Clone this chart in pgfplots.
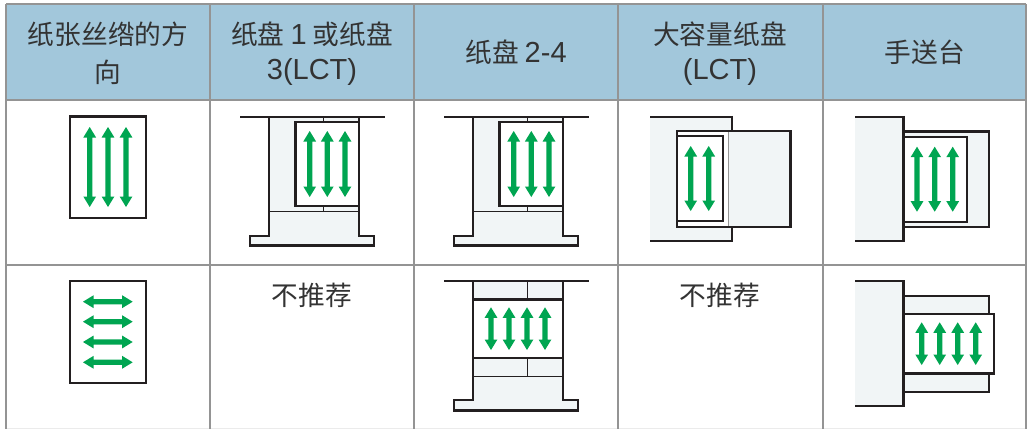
\documentclass[border=0pt]{standalone}
\usepackage{pgfplots}
\pgfplotsset{compat=1.18}
\usepackage{fontspec}
\setmainfont{Liberation Sans}
\newfontfamily\cjk{Noto Sans CJK SC}
\newcommand\lat{\fontsize{29bp}{29bp}\selectfont\rmfamily}
\definecolor{hdr}{HTML}{A2C7DB}
\definecolor{grid}{HTML}{949494}
\definecolor{ink}{HTML}{231F20}
\definecolor{tray}{HTML}{F1F5F6}
\definecolor{arrow}{HTML}{00A551}
\definecolor{txt}{HTML}{333333}
\newcommand\Fill[5]{\addplot[draw=none,fill=#1,forget plot] coordinates {(#2,#3) (#4,#3) (#4,#5) (#2,#5)} --cycle;}
\newcommand\WBox[4]{\addplot[draw=ink,line width=2.4bp,line join=miter,fill=white,forget plot] coordinates {(#1,#2) (#3,#2) (#3,#4) (#1,#4)} --cycle;}
\newcommand\TBox[4]{\addplot[draw=ink,line width=2.4bp,fill=tray,forget plot] coordinates {(#1,#2) (#3,#2) (#3,#4) (#1,#4)} --cycle;}
\newcommand\Ln[4]{\addplot[draw=ink,line width=2.4bp,forget plot] coordinates {(#1,#2) (#3,#4)};}
\newcommand\Thin[4]{\addplot[draw=ink,line width=0.8bp,forget plot] coordinates {(#1,#2) (#3,#4)};}
\newcommand\Gr[4]{\addplot[draw=grid,line width=1.5bp,forget plot] coordinates {(#1,#2) (#3,#4)};}
% vertical double arrow: cx, top, bottom
\newcommand\UD[3]{%
\pgfmathsetmacro\xa{#1-6.4}\pgfmathsetmacro\xb{#1-2.6}\pgfmathsetmacro\xc{#1+2.6}\pgfmathsetmacro\xd{#1+6.4}%
\pgfmathsetmacro\ya{#2+10.5}\pgfmathsetmacro\yb{#3-10.5}%
\addplot[draw=none,fill=arrow,forget plot] coordinates {(#1,#2) (\xd,\ya) (\xc,\ya) (\xc,\yb) (\xd,\yb) (#1,#3) (\xa,\yb) (\xb,\yb) (\xb,\ya) (\xa,\ya)} --cycle;}
% horizontal double arrow: cy, left, right
\newcommand\HA[3]{%
\pgfmathsetmacro\xa{#1-6.4}\pgfmathsetmacro\xb{#1-2.6}\pgfmathsetmacro\xc{#1+2.6}\pgfmathsetmacro\xd{#1+6.4}%
\pgfmathsetmacro\ya{#2+10.5}\pgfmathsetmacro\yb{#3-10.5}%
\addplot[draw=none,fill=arrow,forget plot] coordinates {(#2,#1) (\ya,\xd) (\ya,\xc) (\yb,\xc) (\yb,\xd) (#3,#1) (\yb,\xa) (\yb,\xb) (\ya,\xb) (\ya,\xa)} --cycle;}
% tray with stand
\newcommand\Stand[8]{%
\addplot[draw=none,fill=tray,forget plot] coordinates {(#2,#5) (#3,#5) (#3,#6) (#4,#6) (#4,#7) (#1,#7) (#1,#6) (#2,#6)} --cycle;
\addplot[draw=ink,line width=2.4bp,forget plot] coordinates {(#2,#5) (#2,#6) (#1,#6) (#1,#7) (#4,#7) (#4,#6) (#3,#6) (#3,#5)};
\Ln{#8}{#5}{\the\numexpr#8+145\relax}{#5}}
\newcommand\Hd[3]{\node[text=txt,font=\fontsize{26.7bp}{26.7bp}\selectfont,inner sep=0pt,anchor=center] at (axis cs:#1,#2) {#3};}
\begin{document}
\begin{tikzpicture}
\begin{axis}[scale only axis,width=1027bp,height=429bp,xmin=0,xmax=1027,ymin=0,ymax=429,y dir=reverse,
  axis lines=none,clip=true]
\Fill{white}{0}{0}{1027}{429}
\Fill{hdr}{6}{4}{1026}{100}
% grid
\addplot[draw=black!8,line width=1bp,forget plot] coordinates {(6,428) (1026,428)};
\Gr{6}{4}{1026}{4}
\Gr{6}{100}{1026}{100}
\Gr{6}{265}{1026}{265}
\Gr{6}{4}{6}{429}
\Gr{210}{4}{210}{429}
\Gr{414}{4}{414}{429}
\Gr{618}{4}{618}{429}
\Gr{823}{4}{823}{429}
\Gr{1026}{4}{1026}{429}
% header text
\Hd{108}{34}{\cjk 纸张丝绺的方}
\Hd{108}{72}{\cjk 向}
\Hd{312}{34}{\cjk 纸盘 {\lat 1} 或纸盘}
\Hd{312}{72}{\lat 3(LCT)}
\Hd{516}{52}{\cjk 纸盘 {\lat 2-4}}
\Hd{720}{34}{\cjk 大容量纸盘}
\Hd{720}{72}{\lat (LCT)}
\Hd{925}{52}{\cjk 手送台}
\Hd{312}{295}{\cjk 不推荐}
\Hd{720}{295}{\cjk 不推荐}
% row 1 col 1
\WBox{70}{116.5}{146}{218}
\UD{89.7}{127}{207}\UD{108}{127}{207}\UD{126}{127}{207}
% row 1 col 2
\Stand{250}{269}{359}{374}{117}{236}{245.5}{240}
\Thin{269}{211}{359}{211}
\Thin{323}{117}{323}{122}
\Thin{323}{206}{323}{211}
\WBox{295.5}{122}{359}{206}
\UD{309.7}{131}{197}\UD{327.3}{131}{197}\UD{345}{131}{197}
% row 1 col 3
\Stand{454}{473}{563}{578}{117}{236}{245.5}{444}
\Thin{473}{211}{563}{211}
\Thin{527}{117}{527}{122}
\Thin{527}{206}{527}{211}
\WBox{499.5}{122}{563}{206}
\UD{513.7}{131}{197}\UD{531.3}{131}{197}\UD{549}{131}{197}
% row 1 col 4
\Fill{tray}{650}{117}{732}{241}
\Ln{650}{117}{732}{117}
\Ln{732}{116}{732}{242}
\Ln{650}{241}{732}{241}
\TBox{677}{131}{790.5}{227}
\Fill{white}{678}{132}{728}{226}
\addplot[draw=grid,line width=1bp,forget plot] coordinates {(728,132) (728,226)};
\WBox{677}{136}{722.7}{221}
\UD{690.7}{146}{211}\UD{708.7}{146}{211}
% row 1 col 5
\TBox{903.5}{131.3}{989}{226.7}
\Fill{tray}{855}{117}{903.5}{241}
\Ln{855}{117}{904.5}{117}
\Ln{855}{241}{904.5}{241}
\Ln{903.5}{116}{903.5}{242}
\WBox{903.5}{137}{966.7}{221.7}
\UD{917}{146.7}{211.7}\UD{934.7}{146.7}{211.7}\UD{952.7}{146.7}{211.7}
% row 2 col 1
\WBox{70}{281}{146}{382.7}
\HA{301.7}{83}{132.7}\HA{321.7}{83}{132.7}\HA{342}{83}{132.7}\HA{362.3}{83}{132.7}
% row 2 col 3
\Stand{454}{473}{563}{578}{281}{400}{410.3}{444}
\Thin{473}{376}{563}{376}
\Thin{527.3}{281}{527.3}{299}
\Thin{527.3}{358}{527.3}{376}
\WBox{473}{299.3}{563}{358}
\UD{491}{307.3}{350}\UD{509}{307.3}{350}\UD{527}{307.3}{350}\UD{545}{307.3}{350}
% row 2 col 5
\TBox{903.5}{296}{989}{391.7}
\Fill{tray}{855}{281}{903.5}{405.7}
\Ln{855}{281}{904.5}{281}
\Ln{855}{405.7}{904.5}{405.7}
\Ln{903.5}{280}{903.5}{406.7}
\WBox{903.5}{314}{994}{373.3}
\UD{921.7}{322.3}{365}\UD{939.7}{322.3}{365}\UD{957.7}{322.3}{365}\UD{975.7}{322.3}{365}
\end{axis}
\end{tikzpicture}
\end{document}
